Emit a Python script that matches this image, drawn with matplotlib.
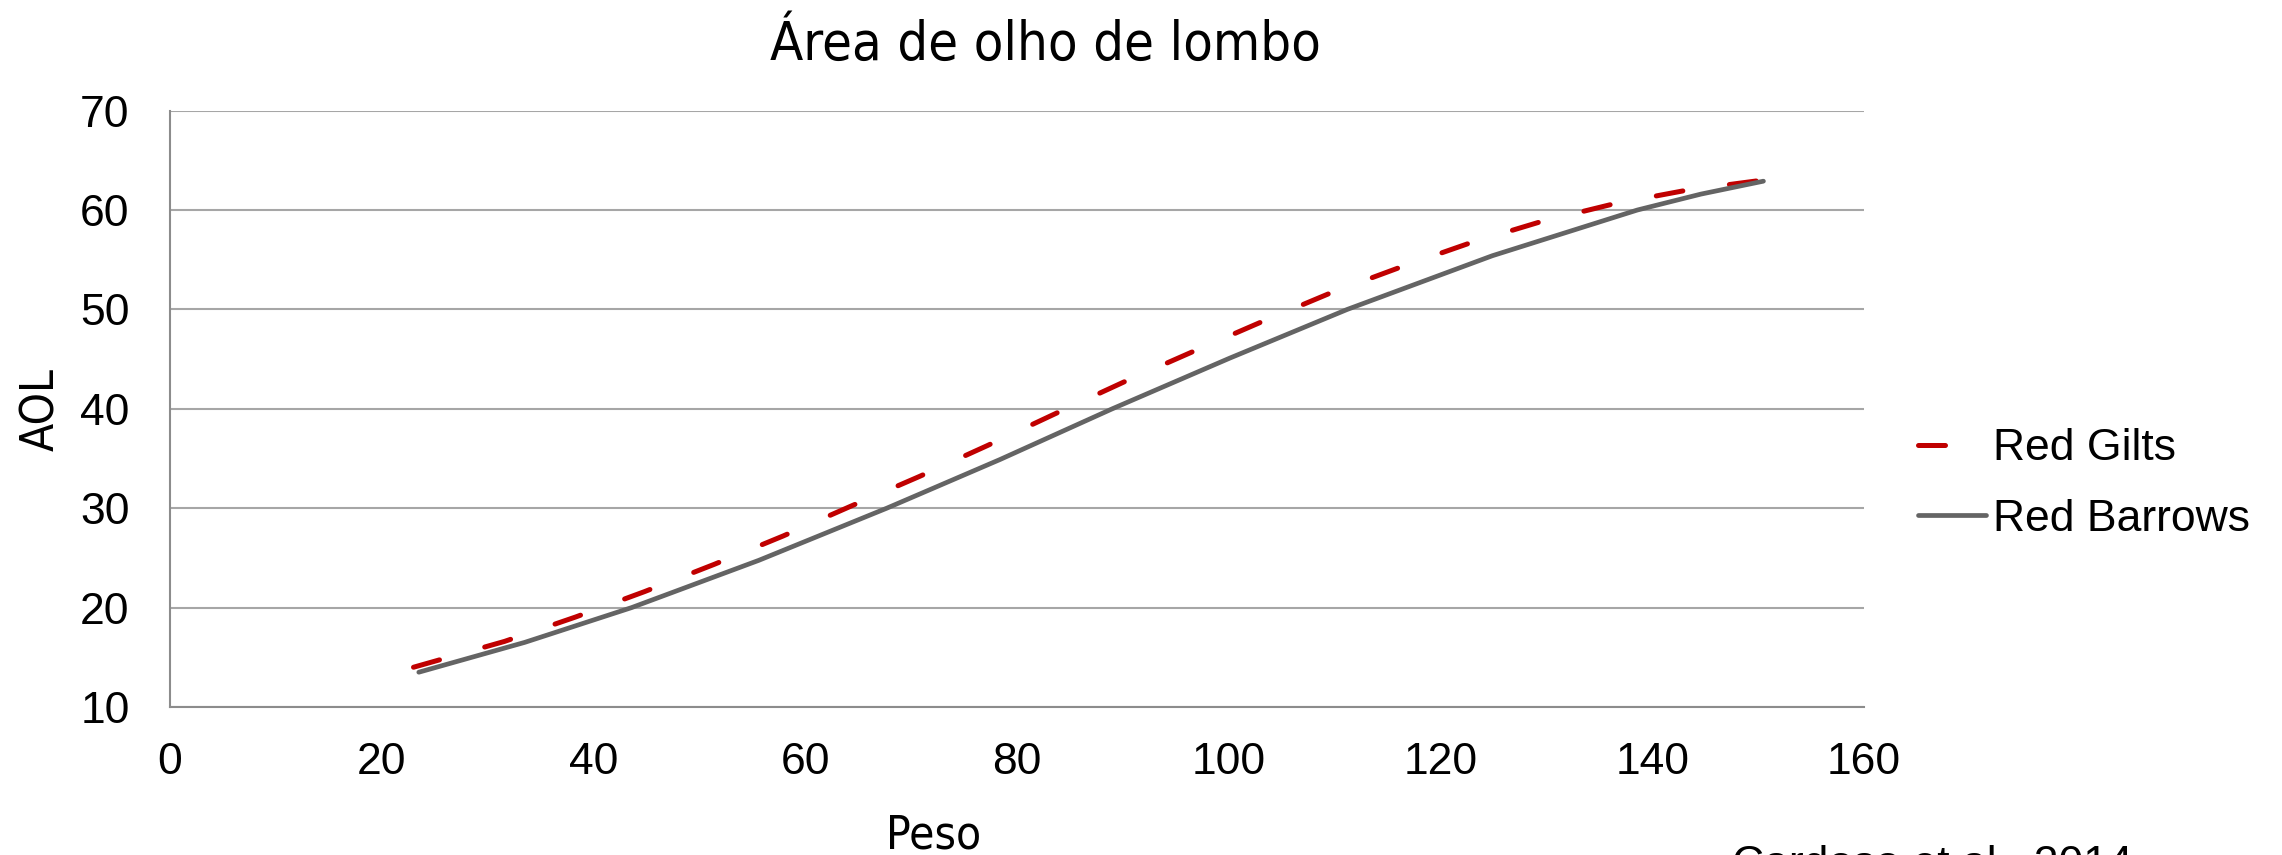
import matplotlib
matplotlib.use("Agg")
import matplotlib.pyplot as plt

# ---- data ----
gilts_x = [23.0, 31.6, 38.3, 44.8, 51.4, 57.9, 64.3, 70.8, 77.2, 83.7, 90.1,
           96.5, 103.0, 109.5, 116.1, 122.7, 129.4, 136.3, 143.3, 151.1]
gilts_y = [14.0, 16.6, 19.05, 21.6, 24.35, 27.2, 30.2, 33.2, 36.3, 39.55, 42.7,
           45.7, 48.7, 51.6, 54.2, 56.65, 58.8, 60.6, 62.0, 63.1]

barrows_x = [23.5, 33.5, 43.6, 55.6, 67.7, 78.4, 89.0, 100.1, 111.2, 124.9, 138.6, 144.6, 150.5]
barrows_y = [13.5, 16.5, 20.0, 24.75, 30.0, 34.9, 40.0, 45.1, 50.0, 55.4, 60.0, 61.6, 62.9]

x_ticks = [0, 20, 40, 60, 80, 100, 120, 140, 160]
y_ticks = [10, 20, 30, 40, 50, 60, 70]

title = "Área de olho de lombo"
xlabel = "Peso"
ylabel = "AOL"
series_names = ["Red Gilts", "Red Barrows"]
source = "Cardoso et al., 2014"

# ---- figure ----
W, H = 2282, 855
fig = plt.figure(figsize=(W / 100, H / 100), dpi=100)
ax = fig.add_axes([170 / W, 1 - 707 / H, (1864 - 170) / W, (707 - 110.6) / H])

RED = "#C00000"
GRAY = "#646464"
body_font = ["Liberation Sans", "DejaVu Sans"]
head_font = ["DejaVu Sans"]

ax.plot(gilts_x, gilts_y, color=RED, lw=3.6, dashes=(5.4, 9.4),
        dash_capstyle="round", solid_capstyle="round", label=series_names[0], zorder=3)
ax.plot(barrows_x, barrows_y, color=GRAY, lw=3.4, solid_capstyle="round",
        label=series_names[1], zorder=3)

ax.set_xlim(0, 160)
ax.set_ylim(10, 70)
ax.set_xticks(x_ticks)
ax.set_yticks(y_ticks)
ax.grid(axis="y", color="#A6A6A6", lw=1.5, zorder=0)
ax.set_axisbelow(True)
for s in ["top", "right"]:
    ax.spines[s].set_visible(False)
for s in ["left", "bottom"]:
    ax.spines[s].set_color("#8C8C8C")
    ax.spines[s].set_linewidth(1.5)
ax.tick_params(axis="both", length=0, labelsize=32)
ax.tick_params(axis="y", pad=29)
ax.tick_params(axis="x", pad=25)
for lab in ax.get_xticklabels() + ax.get_yticklabels():
    lab.set_family(body_font)

fig.text(1045 / W, 1 - 60 / H, title, ha="center", va="baseline",
         fontsize=39, family=head_font, fontstretch="condensed")
fig.text(934 / W, 1 - 848 / H, xlabel, ha="center", va="baseline",
         fontsize=33, family=head_font, fontstretch="condensed")
fig.text(42 / W, 1 - 409 / H, ylabel, ha="center", va="center", rotation=90,
         fontsize=33, family=head_font, fontstretch="condensed")
fig.text(1732 / W, 1 - 876 / H, source, ha="left", va="baseline",
         fontsize=32, family=body_font)

leg = ax.legend(loc="center left", bbox_to_anchor=(1918 / W, 1 - 484 / H),
                bbox_transform=fig.transFigure, frameon=False,
                prop={"family": body_font, "size": 32},
                handlelength=1.53, handletextpad=0.15, labelspacing=0.66,
                borderaxespad=0, borderpad=0)

fig.savefig("out.png", dpi=100)
